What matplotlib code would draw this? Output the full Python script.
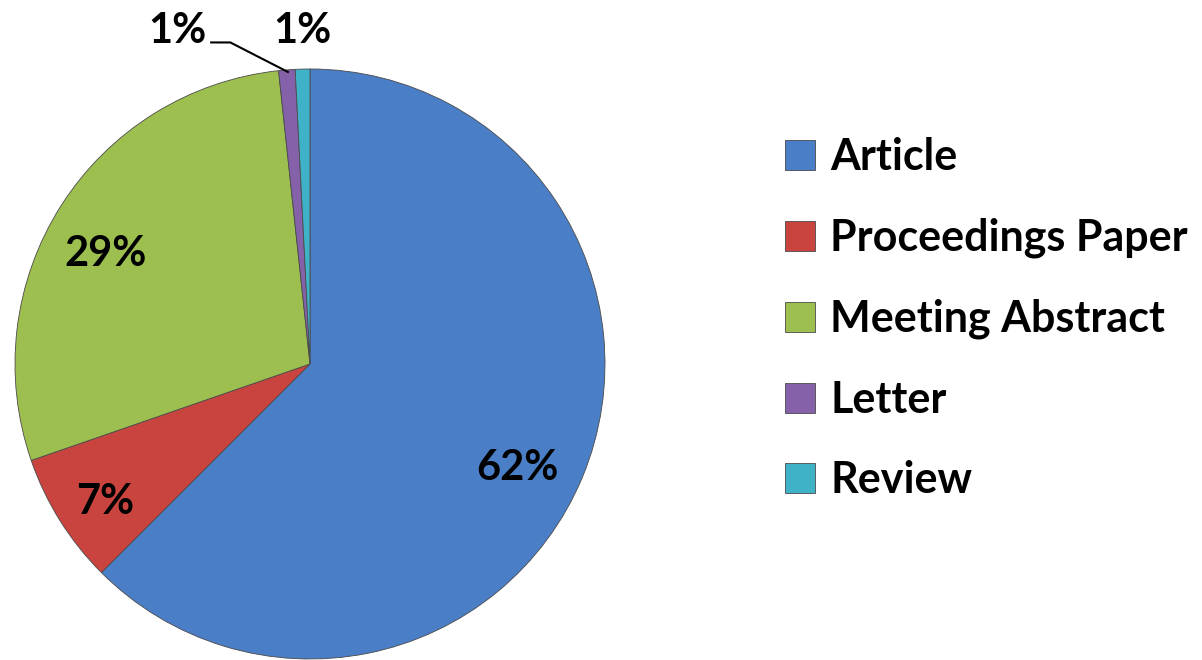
import matplotlib
matplotlib.use("Agg")
from matplotlib import pyplot as plt

# document types share
categories = ["Article", "Proceedings Paper", "Meeting Abstract", "Letter", "Review"]
shares = [62.5, 7.2, 28.6, 0.9, 0.8]
pct_labels = ["62%", "7%", "29%", "1%", "1%"]
colors = ["#4a7ec6", "#c9443f", "#9dbf4f", "#8461a8", "#3fb2c8"]

plt.rcParams["font.family"] = ["Lato", "DejaVu Sans"]
plt.rcParams["font.weight"] = "bold"

fig = plt.figure(figsize=(12.02, 6.6), dpi=100)
W, H = 1202, 660
cx, cy, r = 310, 364, 295
ax = fig.add_axes([(cx - r) / W, (H - cy - r) / H, 2 * r / W, 2 * r / H])

wedges, texts, autotexts = ax.pie(
    shares, colors=colors, startangle=90, counterclock=False, radius=1,
    autopct="%1.0f%%", pctdistance=0.79,
    wedgeprops=dict(edgecolor="#4a4a4a", linewidth=0.6),
    textprops=dict(fontsize=30, fontweight="bold", color="black"))
ax.set_xlim(-1, 1)
ax.set_ylim(-1, 1)
ax.set_aspect("equal")
ax.axis("off")

for t, lab in zip(autotexts, pct_labels):
    t.set_text(lab)
    x, y = t.get_position()
    t.set_position((x - 0.025, y - 0.05))

# small slices: labels above the pie
autotexts[3].set_position((-0.45, 1.13))
autotexts[4].set_position((-0.025, 1.13))
ax.plot([-0.335, -0.27, -0.075], [1.09, 1.09, 0.99], color="black", lw=1.5, clip_on=False)
for t in autotexts[3:]:
    t.set_clip_on(False)

fig.legend(wedges, categories, loc="center left", bbox_to_anchor=(0.653, 0.517),
           frameon=False, handlelength=0.7, handleheight=0.7,
           handletextpad=0.35, labelspacing=0.94, borderpad=0, borderaxespad=0,
           prop=dict(family=["Lato", "DejaVu Sans"], weight="bold", size=31))

fig.savefig("out.png", dpi=100)
